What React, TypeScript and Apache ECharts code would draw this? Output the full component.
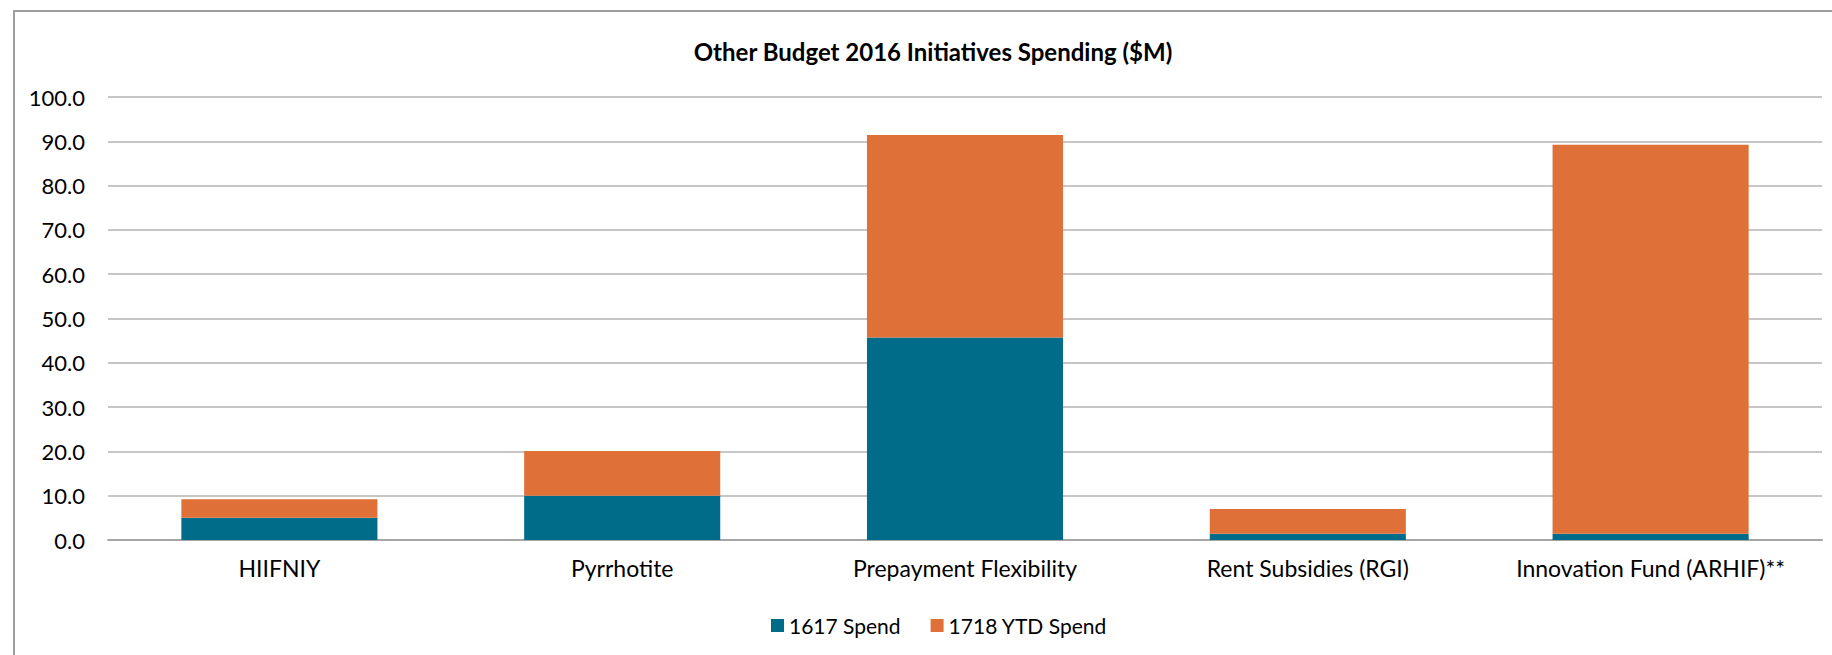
import React, { useEffect, useRef } from "react";
import * as echarts from "echarts";

const categories = [
  "HIIFNIY",
  "Pyrrhotite",
  "Prepayment Flexibility",
  "Rent Subsidies (RGI)",
  "Innovation Fund (ARHIF)**",
];
const spend1617 = [5.0, 10.0, 45.7, 1.4, 1.4];
const spend1718 = [4.2, 10.1, 45.7, 5.6, 87.8];
const seriesNames = ["1617 Spend", "1718 YTD Spend"];
const titleText = "Other Budget 2016 Initiatives Spending ($M)";

const FONT = "Lato, 'Liberation Sans', sans-serif";

export default function App() {
  const ref = useRef<HTMLDivElement>(null);
  useEffect(() => {
    document.body.style.margin = "0";
    if (!ref.current) return;
    const chart = echarts.init(ref.current, null, { renderer: "svg" });
    chart.setOption({
      animation: false,
      backgroundColor: "#ffffff",
      textStyle: { fontFamily: FONT },
      title: {
        text: titleText,
        left: 928,
        top: 34,
        textAlign: "center",
        textStyle: { fontFamily: FONT, fontSize: 24, fontWeight: "bold", color: "#000000" },
      },
      legend: {
        data: seriesNames,
        left: 766,
        top: 610,
        itemWidth: 13,
        itemHeight: 13,
        itemGap: 30,
        icon: "rect",
        textStyle: { fontFamily: FONT, fontSize: 21, color: "#000000" },
      },
      graphic: [
        {
          type: "rect",
          shape: { x: 14, y: 11, width: 1900, height: 800 },
          style: { fill: "none", stroke: "#9e9e9e", lineWidth: 2 },
          silent: true,
          z: -10,
        },
      ],
      grid: { left: 108, right: 10, top: 97, bottom: 115, containLabel: false },
      xAxis: {
        type: "category",
        data: categories,
        axisTick: { show: false },
        axisLine: { lineStyle: { color: "#a6a6a6", width: 2 } },
        axisLabel: { color: "#000000", fontSize: 23, fontFamily: FONT, margin: 16, interval: 0 },
      },
      yAxis: {
        type: "value",
        min: 0,
        max: 100,
        interval: 10,
        axisLine: { show: false },
        axisTick: { show: false },
        splitLine: { lineStyle: { color: "#b3b3b3", width: 1.5 } },
        axisLabel: {
          color: "#000000",
          fontSize: 22,
          fontFamily: FONT,
          margin: 23,
          formatter: (v: number) => v.toFixed(1),
        },
      },
      series: [
        {
          name: seriesNames[0],
          type: "bar",
          stack: "total",
          data: spend1617,
          barWidth: "57.2%",
          itemStyle: { color: "#006C8A" },
        },
        {
          name: seriesNames[1],
          type: "bar",
          stack: "total",
          data: spend1718,
          barWidth: "57.2%",
          itemStyle: { color: "#DF7038" },
        },
      ],
    });
    return () => chart.dispose();
  }, []);
  return <div ref={ref} style={{ width: 1832, height: 655 }} />;
}
